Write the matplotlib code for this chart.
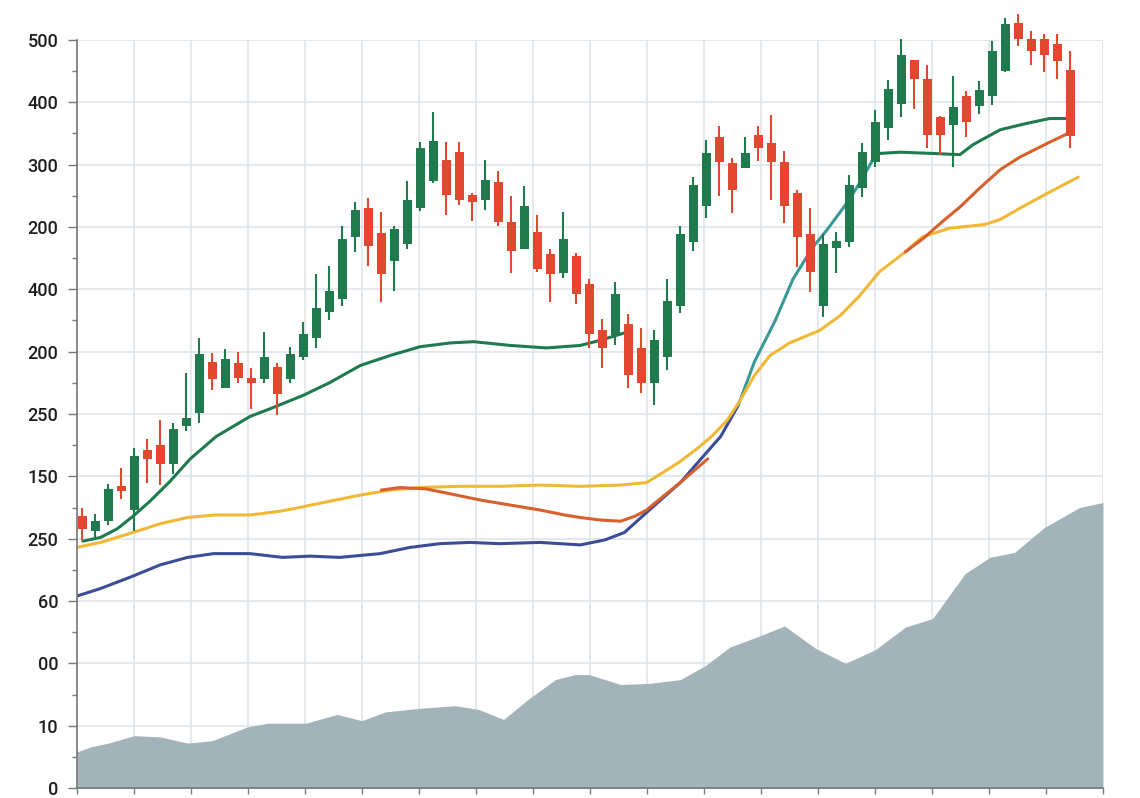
import matplotlib
matplotlib.use("Agg")
import matplotlib.pyplot as plt
import numpy as np

# ---- свечи (индекс свечи -> OHLC) ----
opens = [218, 206, 214, 242, 223, 271, 275, 260, 290, 301, 342, 321, 341, 329, 328, 338, 328, 346,
         361, 382, 392, 442, 465, 445, 423, 436, 465, 487, 504, 510, 476, 472, 486, 454, 432, 446,
         428, 413, 427, 404, 367, 363, 372, 353, 325, 346, 387, 438, 467, 522, 501, 497, 524, 517,
         502, 477, 444, 387, 433, 438, 481, 502, 529, 549, 584, 569, 538, 532, 555, 547, 555, 575,
         614, 601, 601, 597, 576]
highs = [225, 220, 244, 257, 273, 280, 295, 293, 333, 361, 349, 352, 350, 337, 366, 341, 354, 374,
         412, 419, 451, 470, 473, 462, 451, 487, 518, 542, 518, 518, 477, 504, 495, 475, 483, 460,
         432, 462, 429, 408, 376, 406, 380, 369, 367, 408, 451, 490, 520, 531, 505, 522, 531, 540,
         511, 480, 465, 444, 446, 492, 517, 544, 568, 601, 584, 580, 539, 571, 559, 567, 599, 618,
         621, 607, 605, 605, 591]
lows = [199, 199, 211, 232, 206, 245, 243, 252, 286, 293, 319, 321, 325, 304, 325, 299, 325, 343,
        353, 375, 387, 430, 419, 390, 399, 432, 463, 485, 460, 468, 455, 464, 451, 413, 432, 414,
        390, 409, 388, 353, 337, 355, 321, 317, 307, 335, 381, 431, 457, 475, 461, 497, 503, 472,
        453, 418, 398, 378, 413, 434, 474, 498, 520, 538, 545, 513, 508, 498, 522, 541, 548, 574,
        595, 580, 574, 569, 513]
closes = [208, 214, 240, 238, 266, 264, 260, 288, 297, 348, 328, 344, 329, 325, 346, 316, 348, 364,
          385, 399, 440, 464, 435, 412, 448, 472, 513, 519, 476, 472, 470, 488, 454, 431, 467, 416,
          412, 440, 396, 364, 353, 396, 331, 325, 359, 391, 444, 484, 509, 502, 480, 509, 513, 502,
          467, 442, 414, 436, 439, 484, 510, 534, 561, 588, 569, 524, 524, 546, 534, 560, 591, 613,
          601, 591, 588, 583, 523]

# ---- скользящие (x в индексах свечей) ----
ma_fast_x1 = [0.05, 1.4, 2.7, 3.9, 5.2, 6.75, 8.3, 10.3, 12.9, 14.4, 17.0, 19.0, 21.4, 23.7, 26.0,
              28.3, 30.1, 32.9, 35.7, 38.3, 39.8, 42.0]
ma_fast_y1 = [198, 201, 208, 218, 230, 246, 264, 282, 298, 304, 315, 325, 339, 347, 354,
              357, 358, 355, 353, 355, 359, 366]
ma_fast_x2 = [61.3, 62.9, 65.4, 67.5, 68.5, 70.6, 72.6, 74.4, 75.6]
ma_fast_y2 = [509, 510, 509, 508, 516, 528, 533, 537, 537]

ma_mid_x1 = [23.0, 24.4, 26.4, 28.3, 30.6, 32.9, 35.2, 37.1, 38.3, 39.8, 41.4, 42.5, 43.4, 44.8,
             46.0, 47.1, 48.1]
ma_mid_y1 = [239, 241, 240, 236, 231, 227, 223, 219, 217, 215, 214, 218, 223, 235, 245, 255, 264]
ma_mid_x2 = [63.3, 64.7, 66.0, 67.5, 69.0, 70.6, 72.1, 74.2, 75.8]
ma_mid_y2 = [430, 441, 453, 466, 481, 496, 506, 517, 525]

ma_slow_x = [-0.41, 1.4, 3.9, 6.0, 8.1, 10.2, 12.9, 15.2, 16.7, 19.0, 21.4, 23.7, 26.0, 29.0,
             32.1, 35.2, 38.3, 41.4, 43.4, 44.8, 46.0, 47.5, 48.5, 49.6, 50.6, 51.7, 52.9, 54.4,
             56.7, 58.3, 59.8, 61.3, 63.3, 64.6, 66.7, 69.4, 70.6, 72.1, 74.4, 76.6]
ma_slow_y = [193, 197, 205, 212, 217, 219, 219, 222, 225, 230, 235, 239, 241, 242,
             242, 243, 242, 243, 245, 254, 262, 274, 283, 295, 311, 331, 347, 357,
             367, 379, 395, 414, 430, 442, 449, 452, 456, 465, 478, 490]

trend_x = [-0.41, 1.4, 3.9, 6.0, 8.1, 10.1, 12.9, 15.4, 17.5, 19.8, 22.9, 25.2, 27.5, 29.8,
           32.1, 35.2, 38.3, 40.2, 41.7, 43.4, 44.8, 46.0, 47.5, 49.1, 50.45]
trend_y = [154, 160, 170, 179, 185, 188, 188, 185, 186, 185, 188, 193, 196, 197,
           196, 197, 195, 199, 205, 221, 234, 245, 263, 282, 307]
trend2_x = [50.45, 51.7, 53.3, 54.65, 56.2, 57.3, 59.0, 60.0, 60.8, 61.3]
trend2_y = [307, 342, 375, 408, 434, 448, 472, 489, 504, 509]

# ---- объём (заливка внизу) ----
vol_x = [-0.41, 0.67, 2.0, 4.0, 6.0, 8.1, 10.0, 12.7, 14.3, 17.2, 19.6, 21.5, 23.3, 26.0, 28.7,
         30.5, 32.4, 34.4, 36.4, 37.9, 39.0, 41.4, 43.7, 46.0, 47.9, 49.8, 52.1, 54.0, 56.4, 58.7,
         61.0, 63.3, 65.4, 67.9, 69.8, 71.7, 74.0, 76.7, 78.5]
vol_y = [29, 33, 36, 42, 41, 36, 38, 49, 52, 52, 59, 54, 61, 64, 66,
         63, 55, 72, 87, 91, 91, 83, 84, 87, 98, 113, 122, 130, 112, 100,
         111, 129, 136, 172, 185, 189, 209, 225, 229]

y_labels = ["0", "10", "00", "60", "250", "150", "250", "200", "400", "200", "300", "400", "500"]

GREEN = "#1f7a4e"
RED = "#e2472f"

plt.rcParams['font.family'] = ['Roboto', 'DejaVu Sans']

fig = plt.figure(figsize=(11.4, 7.98), dpi=100)
ax = fig.add_axes([0.0675, 0.0125, 0.9, 0.9374])

x_min, x_max = -0.41, 78.5
ax.set_xlim(x_min, x_max)
ax.set_ylim(0, 600)

# сетка
ax.set_xticks(np.linspace(x_min, x_max, 19))
ax.set_xticklabels([])
ax.set_yticks(np.arange(0, 601, 50))
ax.set_yticklabels(y_labels, fontsize=13, fontweight='medium', color='#1e1e1e')
ax.set_yticks(np.arange(25, 600, 50), minor=True)
ax.grid(True, which='major', color='#dfe5ea', linewidth=1.2)
ax.set_axisbelow(True)
ax.tick_params(axis='y', which='major', length=6.5, width=1, color='#777777', pad=7)
ax.tick_params(axis='y', which='minor', length=3.5, width=1, color='#777777')
ax.tick_params(axis='x', which='major', length=4, width=1, color='#777777')

for s in ['top', 'right']:
    ax.spines[s].set_visible(False)
ax.spines['left'].set_color('#777777')
ax.spines['bottom'].set_color('#777777')
ax.spines['left'].set_linewidth(1.2)
ax.spines['bottom'].set_linewidth(1.2)

# объём
ax.fill_between(vol_x, 0, vol_y, color='#a2b3b9', linewidth=0, zorder=1)

# линии
lw = 2.2
kw = dict(lw=lw, zorder=2, solid_capstyle='round', solid_joinstyle='round')
ax.plot(trend_x, trend_y, color='#3c4d98', **kw)
ax.plot(trend2_x, trend2_y, color='#3a9895', **kw)
ax.plot(ma_slow_x, ma_slow_y, color='#f1b835', **kw)
ax.plot(ma_mid_x1, ma_mid_y1, color='#d8602c', **kw)
ax.plot(ma_mid_x2, ma_mid_y2, color='#d8602c', **kw)
ax.plot(ma_fast_x1, ma_fast_y1, color=GREEN, **kw)
ax.plot(ma_fast_x2, ma_fast_y2, color=GREEN, **kw)

# свечи
idx = np.arange(len(opens))
o = np.array(opens)
c = np.array(closes)
colors = [GREEN if cc >= oo else RED for oo, cc in zip(o, c)]
ax.vlines(idx, lows, highs, colors=colors, linewidth=1.5, zorder=3, clip_on=False)
ax.bar(idx, np.abs(c - o), bottom=np.minimum(o, c), width=0.68, color=colors,
       linewidth=0, zorder=4, clip_on=False)

fig.savefig("out.png", dpi=100)
